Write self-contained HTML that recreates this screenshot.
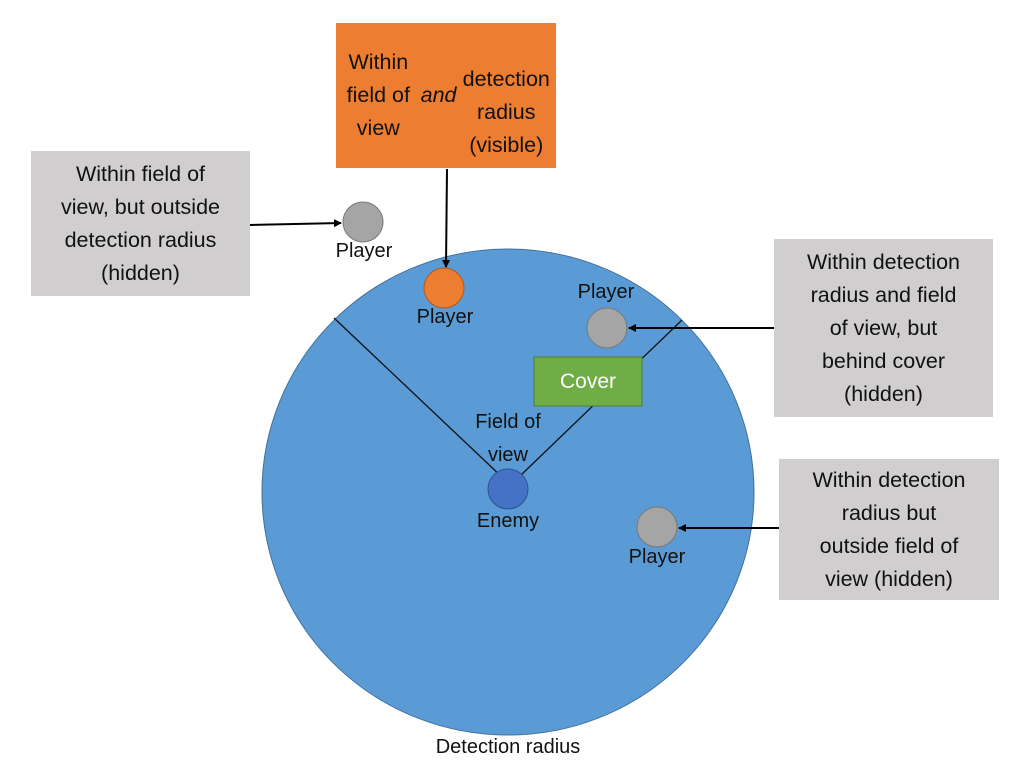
<!DOCTYPE html>
<html><head><meta charset="utf-8"><style>
body{margin:0;width:1024px;height:781px;background:#fff;overflow:hidden;position:relative;font-family:"Liberation Sans",sans-serif;}
.b{position:absolute;display:flex;align-items:center;justify-content:center;text-align:center;font-size:21.5px;line-height:33px;color:#111;}
.l{position:absolute;font-size:20px;color:#111;text-align:center;width:120px;}
</style></head><body>
<svg width="1024" height="781" style="position:absolute;left:0;top:0">
<defs><marker id="a" markerWidth="8" markerHeight="8" refX="7" refY="4" orient="auto" markerUnits="userSpaceOnUse"><path d="M0,0 L8,4 L0,8 z" fill="#000"/></marker></defs>
<ellipse cx="508" cy="492" rx="246" ry="243" fill="#5b9bd5" stroke="#41719c" stroke-width="1"/>
<line x1="334" y1="318" x2="503" y2="478" stroke="#111" stroke-width="1.3"/>
<line x1="682" y1="320" x2="520" y2="476" stroke="#111" stroke-width="1.3"/>
<rect x="534" y="357" width="108" height="49" fill="#70ad47" stroke="#507e32"/>
<circle cx="508" cy="489" r="20" fill="#4472c4" stroke="#2f528f"/>
<circle cx="444" cy="288" r="20" fill="#ed7d31" stroke="#ae5a21"/>
<circle cx="363" cy="222" r="20" fill="#a5a5a5" stroke="#787878"/>
<circle cx="607" cy="328" r="20" fill="#a5a5a5" stroke="#787878"/>
<circle cx="657" cy="527" r="20" fill="#a5a5a5" stroke="#787878"/>
<line x1="447" y1="169" x2="446" y2="267" stroke="#000" stroke-width="2" marker-end="url(#a)"/>
<line x1="250" y1="225" x2="341" y2="223" stroke="#000" stroke-width="2" marker-end="url(#a)"/>
<line x1="774" y1="328" x2="629" y2="328" stroke="#000" stroke-width="2" marker-end="url(#a)"/>
<line x1="779" y1="528" x2="679" y2="528" stroke="#000" stroke-width="2" marker-end="url(#a)"/>
</svg>
<div class="b" style="left:336px;top:23px;width:220px;height:145px;background:#ed7d31">Within field of<br>view <i>and</i><br>detection radius<br>(visible)</div>
<div class="b" style="left:31px;top:151px;width:219px;height:145px;background:#d0cece">Within field of<br>view, but outside<br>detection radius<br>(hidden)</div>
<div class="b" style="left:774px;top:239px;width:219px;height:178px;background:#d0cece">Within detection<br>radius and field<br>of view, but<br>behind cover<br>(hidden)</div>
<div class="b" style="left:779px;top:459px;width:220px;height:141px;background:#d0cece">Within detection<br>radius but<br>outside field of<br>view (hidden)</div>
<div class="b" style="left:534px;top:357px;width:108px;height:49px;color:#fff;font-size:21px">Cover</div>
<div class="l" style="left:304px;top:240px">Player</div>
<div class="l" style="left:385px;top:306px">Player</div>
<div class="l" style="left:546px;top:281px">Player</div>
<div class="l" style="left:597px;top:546px">Player</div>
<div class="l" style="left:448px;top:510px">Enemy</div>
<div class="l" style="left:448px;top:406px;line-height:33px">Field of<br>view</div>
<div class="l" style="left:398px;top:736px;width:220px">Detection radius</div>
</body></html>
